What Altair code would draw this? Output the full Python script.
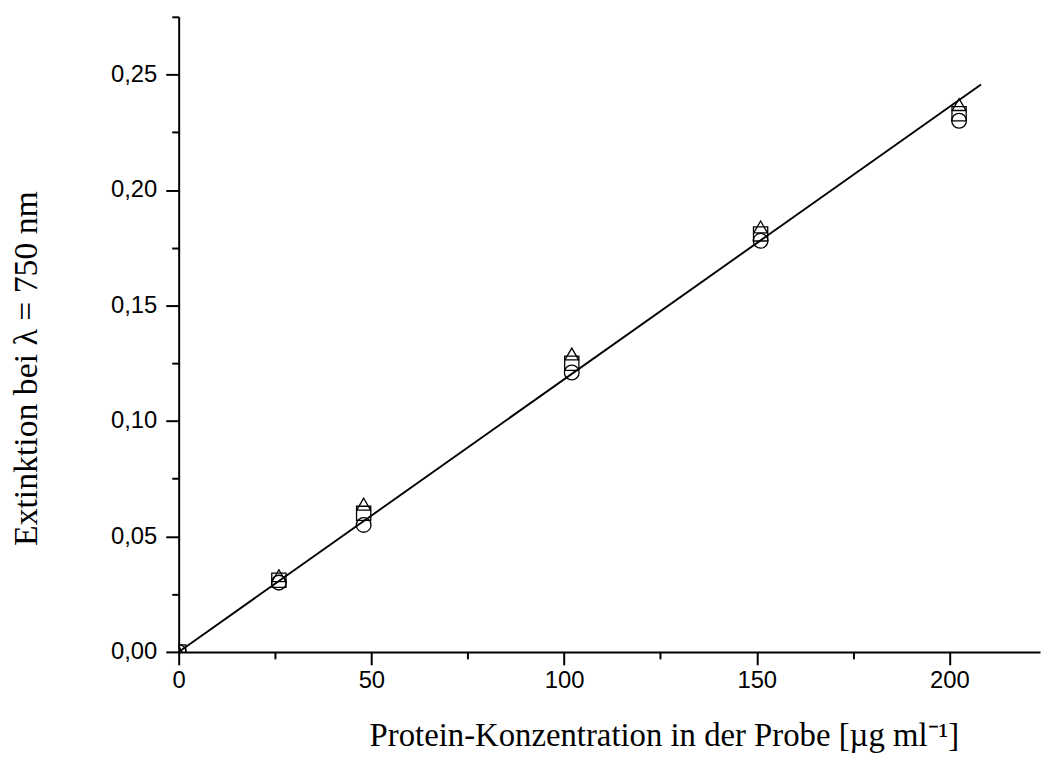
import altair as alt
import pandas as pd

# Data
konzentration = [0, 26, 48, 102, 151, 202.5]
reihe_kreis = [0.0, 0.030, 0.055, 0.121, 0.178, 0.230]
reihe_quadrat = [0.0, 0.031, 0.060, 0.125, 0.181, 0.233]
reihe_dreieck = [0.0, 0.033, 0.064, 0.129, 0.184, 0.237]

fit_x = [0, 208.2]
fit_y = [0, 0.2457]

x_ticks = [0, 25, 50, 75, 100, 125, 150, 175, 200]
y_ticks = [0, 0.025, 0.05, 0.075, 0.1, 0.125, 0.15, 0.175, 0.2, 0.225, 0.25, 0.275]

rows = []
for name, vals in [("Kreis", reihe_kreis), ("Quadrat", reihe_quadrat), ("Dreieck", reihe_dreieck)]:
    for c, v in zip(konzentration, vals):
        rows.append({"Konzentration": c, "Extinktion": v, "Reihe": name})
points_df = pd.DataFrame(rows)
fit_df = pd.DataFrame({"Konzentration": fit_x, "Extinktion": fit_y})

x_scale = alt.Scale(domain=[0, 223.5], nice=False, zero=False)
y_scale = alt.Scale(domain=[0, 0.275], nice=False, zero=False)

x_axis = alt.Axis(
    values=x_ticks,
    labelExpr="datum.value % 50 === 0 ? datum.label : ''",
    tickSize={"condition": {"test": "datum.value % 50 === 0", "value": 13}, "value": 7},
    labelOverlap=False,
    labelFlush=False,
    grid=False,
    domainColor="black",
    domainWidth=2,
    tickColor="black",
    tickWidth=2,
    labelColor="black",
    labelFont="Liberation Sans",
    labelFontSize=24,
    labelPadding=4,
    title="Protein-Konzentration in der Probe [µg ml⁻¹]",
    titleFont="Liberation Serif",
    titleFontSize=33,
    titleFontWeight="normal",
    titleColor="black",
    titleX=489,
    titleY=94,
    titleAlign="center",
    titleBaseline="alphabetic",
)

y_axis = alt.Axis(
    values=y_ticks,
    labelExpr="round(datum.value * 40) % 2 === 0 ? replace(format(datum.value, '.2f'), '.', ',') : ''",
    tickSize={"condition": {"test": "round(datum.value * 40) % 2 === 0", "value": 13}, "value": 7},
    labelOverlap=False,
    labelFlush=False,
    grid=False,
    domainColor="black",
    domainWidth=2,
    tickColor="black",
    tickWidth=2,
    labelColor="black",
    labelFont="Liberation Sans",
    labelFontSize=24,
    labelPadding=9,
    title="Extinktion bei λ = 750 nm",
    titleFont="Liberation Serif",
    titleFontSize=34,
    titleFontWeight="normal",
    titleColor="black",
    titleX=-153,
    titleY=354,
    titleAngle=-90,
    titleAlign="center",
    titleBaseline="middle",
)

line = alt.Chart(fit_df).mark_line(color="black", strokeWidth=1.9, clip=True).encode(
    x=alt.X("Konzentration:Q", scale=x_scale, axis=x_axis),
    y=alt.Y("Extinktion:Q", scale=y_scale, axis=y_axis),
)

points = alt.Chart(points_df).mark_point(
    filled=False, color="black", strokeWidth=1.3, opacity=1, clip=True
).encode(
    x=alt.X("Konzentration:Q", scale=x_scale),
    y=alt.Y("Extinktion:Q", scale=y_scale),
    shape=alt.Shape(
        "Reihe:N",
        scale=alt.Scale(domain=["Kreis", "Quadrat", "Dreieck"], range=["circle", "square", "triangle-up"]),
        legend=None,
    ),
    size=alt.Size(
        "Reihe:N",
        scale=alt.Scale(domain=["Kreis", "Quadrat", "Dreieck"], range=[220, 190, 310]),
        legend=None,
    ),
)

chart = (
    alt.layer(line, points)
    .properties(
        width=868,
        height=640,
        autosize=alt.AutoSizeParams(type="none"),
        padding={"left": 172, "top": 6, "right": 2, "bottom": 100},
        background="white",
    )
    .configure_view(stroke=None)
)

chart.save("out.html", embed_options={"renderer": "svg", "actions": False})
